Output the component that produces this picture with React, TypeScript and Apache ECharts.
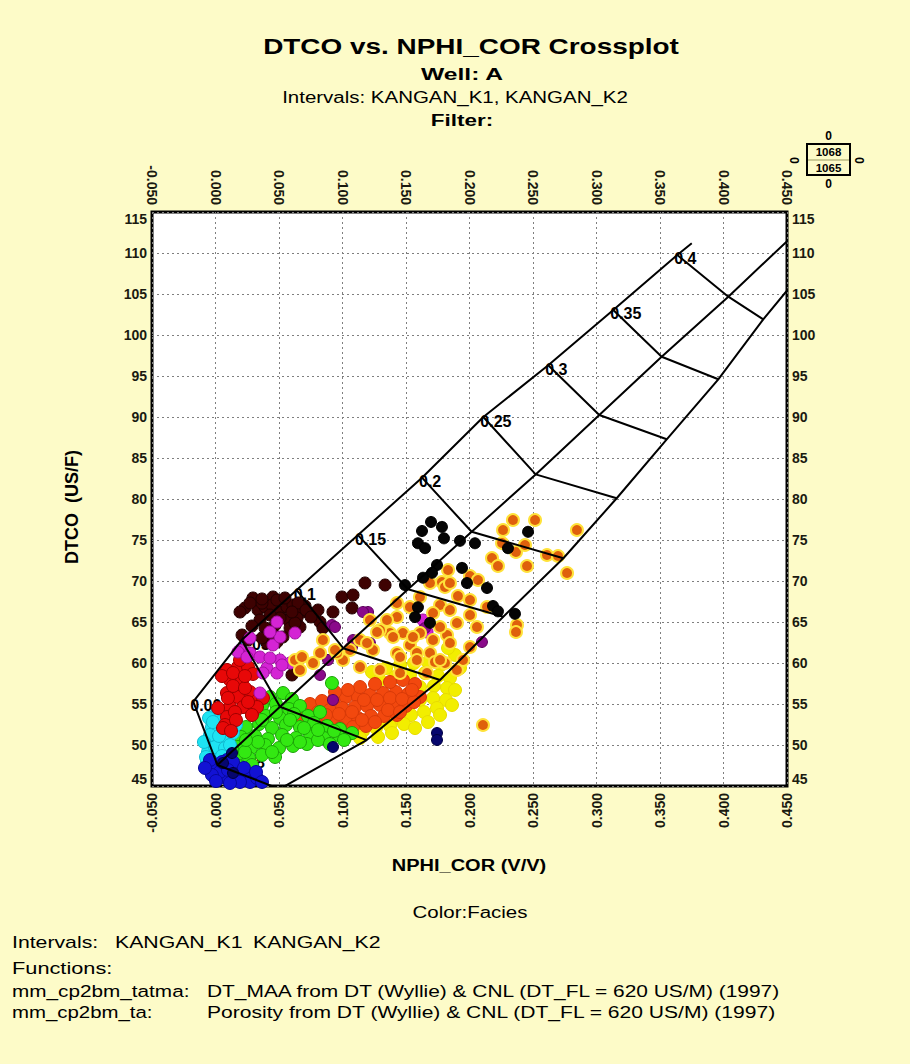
import React, { useEffect, useRef } from 'react';
import * as echarts from 'echarts';

const BG = '#fdfbc8';
const FONT = '"Liberation Sans", Arial, Helvetica, sans-serif';

// Axis ranges / ticks
const X_MIN = -0.05;
const X_MAX = 0.45;
const X_STEP = 0.05;
const Y_MIN = 45;
const Y_MAX = 115;
const Y_STEP = 5;

// Overlay chart (porosity grid): three matrix lines, nodes at porosity 0, 0.05 ... 0.4 (+ extension)
const porosityLabels = ['0.00', '0.05', '0.1', '0.15', '0.2', '0.25', '0.3', '0.35', '0.4'];
const matrixLine1 = [[-0.0175, 55.28], [0.0206, 62.8], [0.0639, 68.9], [0.1122, 75.6], [0.1626, 82.6], [0.2109, 90.0], [0.262, 96.3], [0.3132, 103.05], [0.3636, 109.76], [0.375, 111.2]];
const matrixLine2 = [[0.0015, 47.56], [0.0508, 54.67], [0.1006, 61.8], [0.1516, 69.0], [0.2017, 76.0], [0.2521, 83.0], [0.3022, 90.24], [0.3513, 97.35], [0.4038, 104.67], [0.46, 112.9]];
const matrixLine3 = [[0.0505, 44.63], [0.119, 50.6], [0.1768, 57.93], [0.2266, 65.65], [0.2739, 72.77], [0.3159, 80.09], [0.3553, 87.28], [0.3959, 94.6], [0.4313, 101.9], [0.46, 107.3]];
const matrixLabels = [
  { name: '47', value: [0.0169, 56.7] },
  { name: '48', value: [0.0272, 48.41] },
];

// Facies point clouds [NPHI_COR, DTCO]
const faciesYellow = [[0.1232, 58.9], [0.1343, 59.39], [0.1453, 59.76], [0.1563, 60.0], [0.1673, 60.12], [0.1775, 59.76], [0.1295, 57.93], [0.1413, 58.29], [0.1531, 58.54], [0.165, 58.78], [0.1752, 58.41], [0.1846, 58.17], [0.161, 57.07], [0.172, 57.2], [0.1823, 56.95], [0.161, 55.49], [0.1713, 55.73], [0.1815, 55.49], [0.1335, 53.05], [0.1437, 53.29], [0.1539, 53.66], [0.1642, 54.02], [0.1744, 54.51], [0.1059, 51.59], [0.1161, 51.71], [0.1264, 52.07], [0.1374, 52.32], [0.1484, 52.56], [0.1886, 56.71], [0.1862, 54.88], [0.1768, 53.66], [0.1673, 52.8], [0.1571, 52.07], [0.139, 51.46], [0.128, 50.98], [0.102, 50.85], [0.1138, 50.85], [0.1886, 60.98], [0.1831, 61.83], [0.1925, 59.39]];
const faciesOrangeRed = [[0.065, 54.51], [0.0744, 55.0], [0.0838, 55.37], [0.0933, 55.61], [0.1027, 55.85], [0.1122, 55.85], [0.1216, 56.1], [0.1319, 56.34], [0.1421, 56.46], [0.1516, 56.22], [0.161, 55.85], [0.0705, 53.66], [0.0807, 54.02], [0.0901, 54.27], [0.0996, 54.51], [0.1098, 54.63], [0.1193, 54.76], [0.1295, 54.88], [0.1398, 55.0], [0.15, 54.76], [0.0823, 52.8], [0.0925, 53.05], [0.1027, 53.17], [0.1122, 53.29], [0.1224, 53.54], [0.1327, 53.54], [0.1429, 53.66], [0.098, 52.07], [0.1083, 52.19], [0.1185, 52.32], [0.1138, 57.07], [0.1256, 57.44], [0.1374, 57.68], [0.1476, 57.93], [0.1571, 57.44], [0.0587, 54.02], [0.0681, 53.29], [0.0768, 52.56], [0.087, 53.66], [0.0972, 53.78], [0.1075, 54.02], [0.1169, 55.49], [0.1272, 55.49], [0.1374, 55.73], [0.1469, 55.61], [0.1563, 55.24], [0.1153, 53.05], [0.1256, 52.8], [0.1358, 54.27], [0.1453, 54.02], [0.1547, 56.71], [0.1043, 56.71], [0.0941, 56.46]];
const faciesGreen = [[0.0429, 55.85], [0.0532, 56.34], [0.0602, 55.61], [0.0366, 54.76], [0.0476, 55.0], [0.0579, 54.39], [0.0665, 54.76], [0.0287, 53.66], [0.0398, 53.54], [0.0508, 53.29], [0.0618, 53.78], [0.0728, 53.54], [0.0823, 54.02], [0.024, 52.19], [0.0343, 52.56], [0.0445, 52.07], [0.0555, 52.44], [0.0665, 52.19], [0.0775, 52.68], [0.0878, 52.32], [0.098, 51.95], [0.0201, 50.98], [0.0311, 51.1], [0.0413, 50.73], [0.0524, 51.22], [0.0634, 50.85], [0.0744, 51.34], [0.0854, 50.85], [0.0964, 51.22], [0.1075, 51.46], [0.0177, 49.76], [0.028, 49.63], [0.039, 50.0], [0.05, 49.63], [0.061, 49.88], [0.072, 50.12], [0.0161, 48.54], [0.0264, 48.41], [0.0366, 48.78], [0.0469, 48.54], [0.0185, 47.44], [0.0287, 47.56], [0.0917, 57.56], [0.0335, 55.73], [0.0248, 54.63], [0.013, 49.63], [0.0232, 49.14], [0.0335, 50.37], [0.0445, 49.14], [0.0563, 50.61], [0.0665, 50.37], [0.0807, 50.61], [0.0901, 50.12], [0.1012, 50.61], [0.0366, 53.05], [0.0476, 54.02], [0.0587, 53.05], [0.0697, 52.07], [0.0807, 51.83], [0.0933, 51.71], [0.024, 50.61]];
const faciesCyan = [[0.0012, 53.9], [0.0098, 53.29], [-0.0028, 52.19], [0.0059, 51.83], [-0.002, 50.61], [0.009, 50.61], [-0.0059, 49.14], [0.002, 49.02], [-0.0067, 47.92], [0.0138, 51.46], [0.0035, 52.8], [0.0161, 52.44], [-0.0004, 49.75], [0.0075, 49.63], [-0.0043, 51.22], [0.0114, 50.0], [-0.0075, 48.53], [-0.0051, 53.29], [-0.002, 52.8], [0.0083, 54.02], [0.0122, 52.19], [0.0028, 51.1], [-0.0091, 50.37], [0.0051, 48.66], [-0.0028, 47.44]];
const faciesBlue = [[0.0012, 47.32], [0.0059, 46.1], [0.0169, 46.59], [0.0248, 45.98], [0.0272, 45.49], [0.009, 48.17], [0.0035, 46.71], [0.0193, 45.49], [0.0114, 45.37], [-0.0028, 46.34], [0.0327, 45.98], [-0.0043, 48.17], [0.0051, 47.92], [0.0138, 47.92], [0.0224, 47.2], [0.0319, 46.71], [0.0366, 45.49], [0.0004, 45.61], [-0.0083, 47.2], [0.0098, 46.95]];
const faciesNavy = [[0.013, 49.02], [0.0059, 47.8], [0.0138, 46.59], [0.0925, 49.76], [0.1744, 51.46], [0.1744, 50.61]];
const faciesRed = [[0.009, 59.15], [0.0177, 59.51], [0.0256, 59.51], [0.0114, 57.93], [0.0209, 57.93], [0.009, 56.34], [0.0177, 55.85], [0.0272, 56.46], [0.0335, 55.49], [0.0114, 54.63], [0.0217, 54.63], [0.009, 53.41], [0.0075, 52.44], [0.0059, 52.07], [0.0374, 55.73], [0.0327, 54.63], [0.0138, 57.2], [0.0232, 56.95], [0.0153, 54.02], [0.0287, 53.66], [0.0051, 58.41], [0.0138, 58.78], [0.0295, 58.66], [0.0232, 58.41], [0.002, 54.51], [0.0098, 55.73], [0.0161, 53.05], [0.0256, 55.24], [0.0122, 51.71], [0.0193, 60.37]];
const faciesMagenta = [[0.0193, 61.58], [0.0272, 61.22], [0.035, 60.73], [0.0453, 62.2], [0.0508, 60.37], [0.0587, 60.0], [0.0508, 63.17], [0.0484, 65.0], [0.0405, 59.39], [0.0484, 58.78], [0.035, 56.34], [0.0626, 63.66], [0.0429, 63.78], [0.0272, 63.05], [0.0177, 61.34], [0.0248, 60.73], [0.0429, 60.61], [0.0524, 59.76], [0.0374, 58.78], [0.165, 64.88], [0.1634, 65.24], [0.1665, 63.78]];
const faciesPurple = [[0.0917, 64.63], [0.0886, 60.37], [0.0925, 55.49], [0.1201, 66.22], [0.1083, 62.8], [0.1216, 62.44], [0.1059, 61.83], [0.0823, 58.54], [0.2098, 62.56], [0.1075, 61.95], [0.0941, 64.39], [0.1161, 66.22], [0.165, 64.27]];
const faciesMaroon = [[0.0295, 67.93], [0.0453, 68.05], [0.0232, 66.71], [0.0335, 66.46], [0.039, 66.83], [0.0445, 67.07], [0.0508, 66.22], [0.0563, 66.83], [0.061, 67.07], [0.0681, 66.22], [0.0642, 65.49], [0.0571, 65.24], [0.0508, 65.49], [0.0429, 65.85], [0.035, 65.24], [0.0665, 64.39], [0.0587, 64.27], [0.0531, 63.17], [0.0405, 62.44], [0.0484, 62.56], [0.0209, 63.41], [0.0256, 62.8], [0.0807, 66.46], [0.0925, 66.22], [0.0823, 65.0], [0.0846, 64.27], [0.0996, 68.05], [0.1083, 68.29], [0.1075, 66.71], [0.1177, 69.76], [0.1335, 69.51], [0.0602, 58.54], [0.0366, 67.3], [0.0705, 66.95], [0.0272, 67.32], [0.0366, 67.81], [0.0484, 67.68], [0.0547, 67.93], [0.065, 67.32], [0.0713, 66.46], [0.0752, 65.61], [0.0626, 64.88], [0.0469, 64.63], [0.039, 64.27], [0.0287, 64.51], [0.0193, 66.22], [0.0602, 66.22], [0.0453, 63.54], [0.0366, 63.05]];
const faciesOrange = [[0.2342, 77.44], [0.2516, 77.44], [0.2846, 76.22], [0.2264, 76.22], [0.2256, 74.63], [0.2366, 73.54], [0.2437, 74.39], [0.261, 73.17], [0.2697, 73.05], [0.2177, 72.81], [0.2224, 71.83], [0.2453, 71.83], [0.2768, 70.98], [0.1831, 71.34], [0.2004, 70.61], [0.2067, 70.12], [0.1783, 69.88], [0.1807, 69.27], [0.1689, 69.76], [0.1909, 68.17], [0.2004, 67.68], [0.1768, 67.07], [0.161, 68.05], [0.1531, 66.83], [0.1713, 66.1], [0.1846, 66.46], [0.1901, 64.88], [0.2059, 64.39], [0.2138, 66.83], [0.2374, 64.63], [0.1429, 65.61], [0.1374, 63.66], [0.1476, 63.66], [0.161, 63.66], [0.1713, 62.8], [0.1823, 63.41], [0.1216, 65.24], [0.1295, 64.02], [0.1138, 62.8], [0.1059, 61.59], [0.124, 61.59], [0.1531, 62.2], [0.1586, 61.22], [0.1429, 61.22], [0.1689, 61.22], [0.1768, 64.39], [0.2004, 65.85], [0.1728, 60.12], [0.1807, 60.0], [0.1586, 60.37], [0.1846, 69.76], [0.1429, 67.32], [0.135, 65.24], [0.1272, 63.78], [0.1398, 63.17], [0.1555, 63.17], [0.1846, 62.44], [0.2004, 61.95], [0.1193, 62.44], [0.1453, 60.73], [0.1768, 60.37], [0.1949, 60.37], [0.1901, 59.15], [0.1665, 58.78], [0.1453, 58.78], [0.1295, 59.15], [0.1138, 59.51], [0.1004, 60.37], [0.0846, 62.8], [0.0823, 61.22], [0.0957, 61.22], [0.0626, 60.37], [0.0681, 60.73], [0.0941, 61.59], [0.0768, 60.0], [0.0665, 59.15], [0.2106, 52.44], [0.2366, 63.78]];
const faciesBlack = [[0.1697, 77.2], [0.1783, 76.6], [0.1626, 76.1], [0.1594, 74.6], [0.165, 74.0], [0.1799, 75.2], [0.1925, 74.9], [0.2043, 74.6], [0.2461, 76.0], [0.2303, 74.0], [0.1744, 71.95], [0.1941, 71.6], [0.1705, 71.0], [0.1634, 70.4], [0.1492, 69.5], [0.198, 69.75], [0.2138, 69.15], [0.2185, 66.95], [0.2224, 66.3], [0.2358, 66.0], [0.1594, 66.8], [0.1571, 65.6], [0.1689, 64.9]];

const facies = [
  { name: 'Yellow', data: faciesYellow, color: '#f2ee00', border: '#e8dc00', size: 13 },
  { name: 'OrangeRed', data: faciesOrangeRed, color: '#f2480e', border: '#d83a08', size: 13 },
  { name: 'Green', data: faciesGreen, color: '#33e812', border: '#1ca308', size: 13 },
  { name: 'Cyan', data: faciesCyan, color: '#1ee4f2', border: '#10b8d0', size: 13 },
  { name: 'Blue', data: faciesBlue, color: '#1212d4', border: '#08089a', size: 13 },
  { name: 'Navy', data: faciesNavy, color: '#06066e', border: '#000040', size: 11 },
  { name: 'Red', data: faciesRed, color: '#e80808', border: '#a00000', size: 13 },
  { name: 'Maroon', data: faciesMaroon, color: '#3e0202', border: '#200000', size: 12 },
  { name: 'Magenta', data: faciesMagenta, color: '#d424d4', border: '#a010a0', size: 12 },
  { name: 'Purple', data: faciesPurple, color: '#8a0a8a', border: '#5a005a', size: 11 },
  { name: 'Orange', data: faciesOrange, color: '#df600c', border: '#ffe23a', size: 12 },
  { name: 'Black', data: faciesBlack, color: '#050505', border: '#000000', size: 11 },
];

export default function App() {
  const ref = useRef<HTMLDivElement>(null);

  useEffect(() => {
    document.body.style.margin = '0';
    document.body.style.background = BG;
    const chart = echarts.init(ref.current as HTMLDivElement, undefined, { renderer: 'svg' });

    const labelStyle = {
      fontFamily: FONT,
      fontSize: 14,
      fontWeight: 'bold' as const,
      color: '#1a1a10',
    };

    const xAxisBase = (pos: 'bottom' | 'top', split: boolean) => ({
      type: 'value',
      position: pos,
      min: X_MIN,
      max: X_MAX,
      interval: X_STEP,
      axisLine: { show: false },
      axisTick: { show: false },
      splitLine: { show: split, lineStyle: { color: '#7f7f7f', type: [2, 3], width: 1 } },
      axisLabel: { ...labelStyle, rotate: 90, margin: 7, formatter: (v: number) => v.toFixed(3) },
    });
    const yAxisBase = (pos: 'left' | 'right', split: boolean) => ({
      type: 'value',
      position: pos,
      min: Y_MIN,
      max: Y_MAX,
      interval: Y_STEP,
      axisLine: { show: false },
      axisTick: { show: false },
      splitLine: { show: split, lineStyle: { color: '#7f7f7f', type: [2, 3], width: 1 } },
      axisLabel: { ...labelStyle, margin: 5, verticalAlignMinLabel: 'bottom', verticalAlignMaxLabel: 'top' },
    });

    const matrixLines = [matrixLine1, matrixLine2, matrixLine3];
    const lineSeries: any[] = matrixLines.map((ln, i) => ({
      name: 'matrix' + i,
      type: 'line',
      data: ln,
      symbol: 'none',
      z: 4,
      clip: true,
      lineStyle: { color: '#000', width: 2 },
      silent: true,
    }));
    porosityLabels.forEach((lab, i) => {
      lineSeries.push({
        name: 'phi' + lab,
        type: 'line',
        data: [matrixLine1[i], matrixLine2[i], matrixLine3[i]],
        symbol: 'none',
        z: 4,
        clip: true,
        lineStyle: { color: '#000', width: 2 },
        silent: true,
      });
    });

    const labelData = porosityLabels
      .map((lab, i) => ({ name: lab, value: matrixLine1[i] }))
      .concat(matrixLabels as any);

    const labelSeries = {
      name: 'labels',
      type: 'scatter',
      data: labelData,
      symbolSize: 0,
      itemStyle: { color: '#000', opacity: 1 },
      z: 1,
      silent: true,
      label: {
        show: true,
        position: 'right',
        distance: -3,
        offset: [0, 4],
        formatter: (p: any) => p.name,
        fontFamily: FONT,
        fontSize: 16,
        fontWeight: 'bold',
        color: '#000',
        opacity: 1,
      },
    };

    const scatterSeries = facies.map((f) => ({
      name: f.name,
      type: 'scatter',
      data: f.data,
      symbol: 'circle',
      symbolSize: f.size,
      z: 2,
      itemStyle: { color: f.color, borderColor: f.border, borderWidth: f.name === 'Orange' ? 2 : 1, opacity: 1 },
    }));

    const txt = (text: string, x: number, y: number, size: number, bold: boolean, align = 'left', sx = 1, rotation = 0) => ({
      type: 'text',
      x,
      y,
      rotation,
      scaleX: sx,
      style: {
        text,
        fontFamily: FONT,
        fontSize: size,
        fontWeight: bold ? 'bold' : 'normal',
        fill: '#000',
        align,
        verticalAlign: 'middle',
      },
    });

    const option: any = {
      animation: false,
      backgroundColor: BG,
      grid: {
        left: 152,
        top: 212,
        width: 635,
        height: 574,
        show: true,
        backgroundColor: '#ffffff',
        borderColor: '#000000',
        borderWidth: 3,
      },
      xAxis: [xAxisBase('bottom', true), xAxisBase('top', false)],
      yAxis: [yAxisBase('left', true), yAxisBase('right', false)],
      series: [labelSeries, ...scatterSeries, ...lineSeries],
      graphic: [
        txt('DTCO vs. NPHI_COR Crossplot', 471, 46, 22, true, 'center', 1.27),
        txt('Well: A', 462, 74, 17, true, 'center', 1.45),
        txt('Intervals: KANGAN_K1, KANGAN_K2', 455, 97, 16, false, 'center', 1.28),
        txt('Filter:', 462, 120, 17, true, 'center', 1.32),
        txt('DTCO  (US/F)', 72, 507, 18, true, 'center', 1, Math.PI / 2),
        txt('NPHI_COR (V/V)', 469, 866, 16, true, 'center', 1.25),
        txt('Color:Facies', 470, 912, 16, false, 'center', 1.28),
        txt('Intervals:', 12, 942, 17, false, 'left', 1.25),
        txt('KANGAN_K1', 115, 942, 17, false, 'left', 1.25),
        txt('KANGAN_K2', 253, 942, 17, false, 'left', 1.25),
        txt('Functions:', 12, 968, 17, false, 'left', 1.28),
        txt('mm_cp2bm_tatma:', 12, 991, 17, false, 'left', 1.22),
        txt('DT_MAA from DT (Wyllie) & CNL (DT_FL = 620 US/M) (1997)', 207, 991, 17, false, 'left', 1.23),
        txt('mm_cp2bm_ta:', 12, 1012, 17, false, 'left', 1.2),
        txt('Porosity from DT (Wyllie) & CNL (DT_FL = 620 US/M) (1997)', 207, 1012, 17, false, 'left', 1.24),
        {
          type: 'rect',
          shape: { x: 807, y: 144, width: 43, height: 31 },
          style: { fill: BG, stroke: '#000', lineWidth: 2 },
        },
        {
          type: 'line',
          shape: { x1: 808, y1: 160, x2: 849, y2: 160 },
          style: { stroke: '#9a9a60', lineWidth: 1 },
        },
        txt('1068', 828.5, 152.5, 11, true, 'center', 1.05),
        txt('1065', 828.5, 168, 11, true, 'center', 1.05),
        txt('0', 828.5, 136, 12, true, 'center'),
        txt('0', 828.5, 184, 12, true, 'center'),
        txt('0', 795, 160.5, 12, true, 'center', 1, Math.PI / 2),
        txt('0', 860, 160.5, 12, true, 'center', 1, Math.PI / 2),
      ],
    };

    chart.setOption(option);
    return () => chart.dispose();
  }, []);

  return (
    <div
      ref={ref}
      style={{ position: 'fixed', left: 0, top: 0, width: 910, height: 1064, background: BG }}
    />
  );
}
